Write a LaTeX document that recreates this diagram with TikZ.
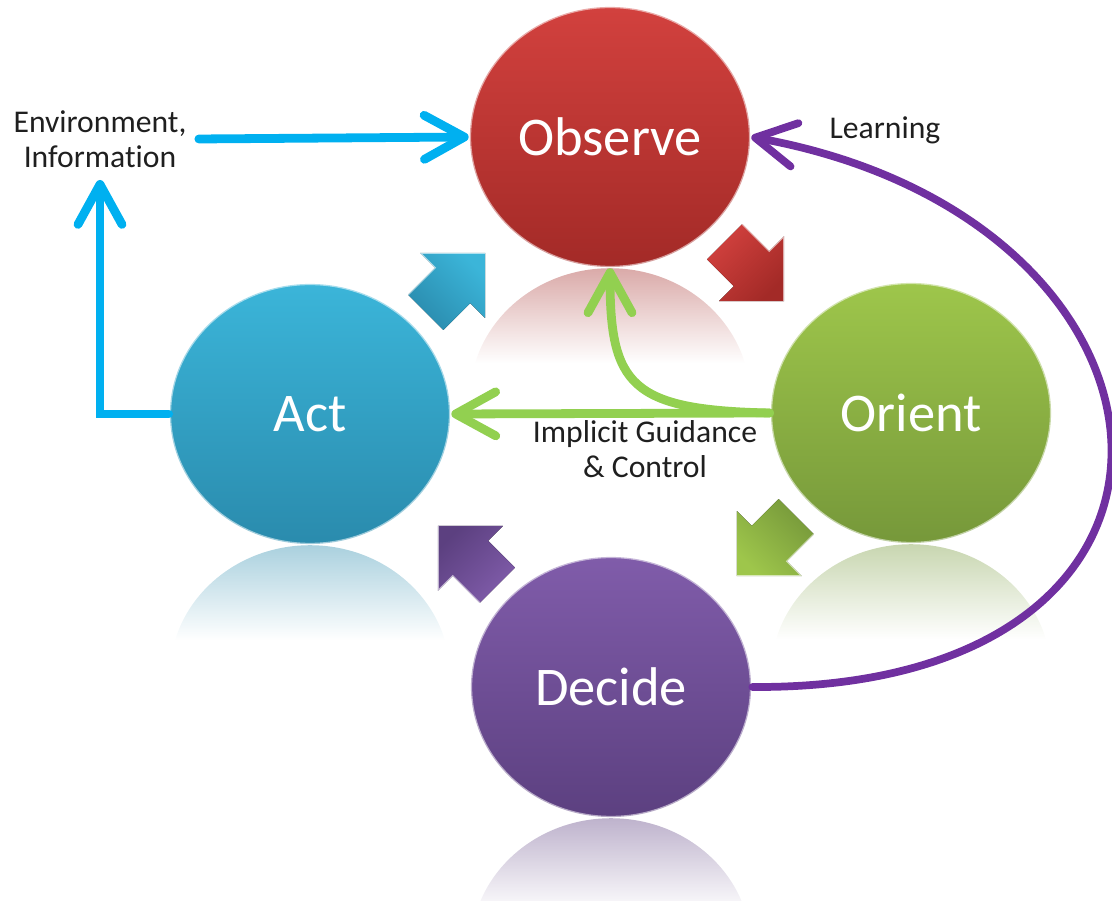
\documentclass[tikz,border=0pt]{standalone}
\usepackage{fontspec}
\setmainfont{Carlito}[Ligatures=NoCommon]
\usetikzlibrary{positioning,shapes.geometric,arrows.meta,calc,fadings}

\definecolor{obstop}{HTML}{D2413E}
\definecolor{obsbot}{HTML}{A32A27}
\definecolor{acttop}{HTML}{3BB5D9}
\definecolor{actbot}{HTML}{2A8BAD}
\definecolor{oritop}{HTML}{9EC64B}
\definecolor{oribot}{HTML}{76983A}
\definecolor{dectop}{HTML}{805CAA}
\definecolor{decbot}{HTML}{5C4080}
\definecolor{envblue}{HTML}{00B0F0}
\definecolor{guidegreen}{HTML}{92D050}
\definecolor{learnpurple}{HTML}{7030A0}

\tikzfading[name=reflfade, top color=transparent!50, bottom color=transparent!100]

\newcommand{\refl}[2]{%
  \begin{scope}
    \clip ($(#1.south)+(0,-130)$) ellipse (1.4cm and 1.3cm);
    \fill[#2, path fading=reflfade]
      ($(#1.south)+(-145,0)$) rectangle ($(#1.south)+(145,-95)$);
  \end{scope}}

\newcommand{\blockarr}[5]{%
  \fill[shift={(#1)}, rotate=#2, top color=#3, bottom color=#4, shading angle=-#2]
    (-40,-25) -- (-2,-25) -- (-2,-46) -- (44,0) -- (-2,46) -- (-2,25) -- (-40,25) -- cycle;
  \draw[shift={(#1)}, rotate=#2, #5, line width=0.5pt, opacity=0.6]
    (-40,25) -- (-2,25) -- (-2,46) -- (44,0);}

\begin{document}
\begin{tikzpicture}
    [x=0.01cm, y=0.01cm,
     phase/.style={ellipse,
        minimum width=2.8cm, minimum height=2.6cm, inner sep=0pt,
        text=white, font=\fontsize{15.5}{18}\selectfont,
        draw=white, draw opacity=0.55, line width=0.7pt},
     lbl/.style={align=center, text=black!88,
        font=\fontsize{9}{10}\selectfont},
     link/.style={line width=2.5pt, line cap=round,
        -{Straight Barb[length=4mm, width=4.4mm, round]}}]

    \useasboundingbox (0,0) rectangle (1112,-901);

    \node[phase, top color=obstop, bottom color=obsbot]
        (observe) at (610,-137) {Observe};
    \node[phase, top color=acttop, bottom color=actbot]
        (act) at (310,-414) {Act};
    \node[phase, top color=oritop, bottom color=oribot]
        (orient) at (911,-413) {Orient};
    \node[phase, top color=dectop, bottom color=decbot]
        (decide) at (611,-687) {Decide};

    \node[lbl] (env) at (100,-139) {Environment,\\Information};
    \node[lbl] (learn) at (885,-130) {Learning};
    \node[lbl] (guide) at (645,-449) {Implicit Guidance\\\& Control};

    \refl{observe}{obsbot!80}
    \refl{act}{actbot!80}
    \refl{orient}{oribot!80}
    \refl{decide}{decbot!80}

    \blockarr{454,-284}{45}{acttop}{actbot}{white}
    \blockarr{753,-270}{-45}{obstop}{obsbot}{white}
    \blockarr{768,-545}{-135}{oritop}{oribot}{white}
    \blockarr{469,-557}{135}{dectop}{decbot}{white}

    \draw[link, envblue] (env.east) -- (observe.west);
    \draw[link, envblue] (act.west) -| (env.south);

    \draw[link, guidegreen] (orient.west) -- (act.east);
    \draw[link, guidegreen] (orient.west)
        .. controls (630,-410) and (610,-385) .. (observe.south);

    \draw[link, learnpurple, line width=2.2pt] (decide.east)
        .. controls (1250,-690) and (1210,-220) .. (observe.east);
\end{tikzpicture}
\end{document}
